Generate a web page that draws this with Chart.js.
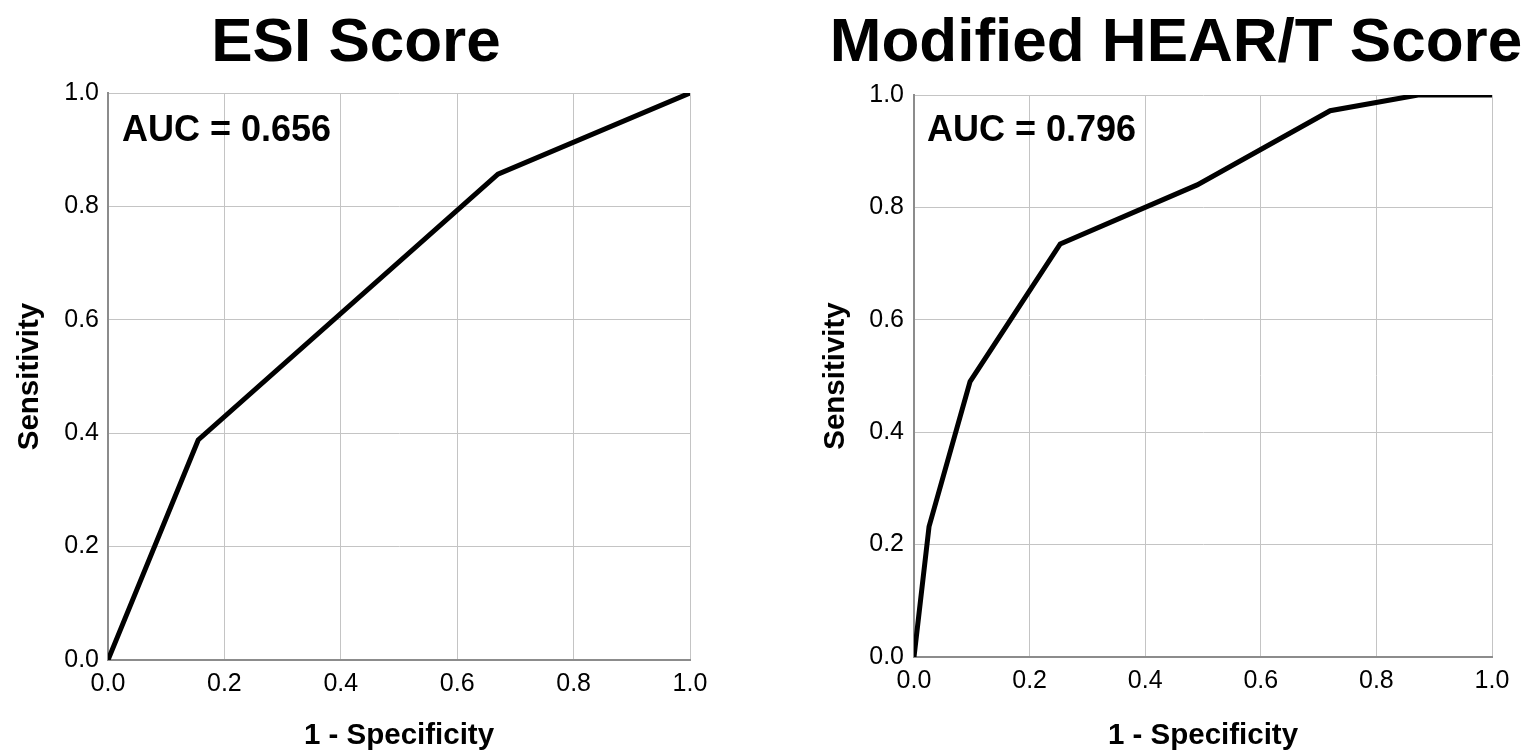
<!DOCTYPE html>
<html>
<head>
<meta charset="utf-8">
<title>ROC curves</title>
<script src="https://cdn.jsdelivr.net/npm/chart.js@4.4.1/dist/chart.umd.min.js"></script>
<style>
  body { margin: 0; background: #fff; font-family: "Liberation Sans", Arial, sans-serif; }
  .panel { position: absolute; top: 0; width: 765px; height: 754px; }
  .title {
    position: absolute; top: 9px; margin: 0; z-index: 2;
    font-size: 62px; line-height: 62px; font-weight: bold; color: #000;
    white-space: nowrap; transform: translateX(-50%);
  }
</style>
</head>
<body>
<div class="panel" style="left:0"><canvas id="esiChart"></canvas></div>
<div class="panel" style="left:765px"><canvas id="hearChart"></canvas></div>
<h2 class="title" style="left:356px">ESI Score</h2>
<h2 class="title" style="left:1176px">Modified HEAR/T Score</h2>

<script>
// ROC points (1 - specificity, sensitivity)
const esiFpr = [0, 0.155, 0.67, 1];
const esiTpr = [0, 0.388, 0.857, 1];
const esiAuc = "AUC = 0.656";

const hearFpr = [0, 0.026, 0.097, 0.253, 0.49, 0.72, 0.872, 1];
const hearTpr = [0, 0.232, 0.49, 0.735, 0.84, 0.972, 1, 1];
const hearAuc = "AUC = 0.796";

const tickValues = [0, 0.2, 0.4, 0.6, 0.8, 1.0];

const FONT = "'Liberation Sans', Arial, sans-serif";

// writes the AUC text in the top-left corner of the plot
const aucLabel = {
  id: "aucLabel",
  afterDatasetsDraw(chart, args, opts) {
    const { ctx, chartArea } = chart;
    ctx.save();
    ctx.font = "bold 36px " + FONT;
    ctx.fillStyle = "#000";
    ctx.textBaseline = "middle";
    ctx.fillText(opts.text, chartArea.left + opts.dx, chartArea.top + opts.dy);
    ctx.restore();
  },
};

const makeRoc = (id, fpr, tpr, auc, box) => {
  const ctx = document.getElementById(id).getContext("2d");
  const points = fpr.map((x, i) => ({ x: x, y: tpr[i] }));

  const axisFont = { family: FONT, size: 25 };
  const titleFont = { family: FONT, size: 29.5, weight: "bold", lineHeight: 1.2 };
  const grid = { color: "#c4c4c4", lineWidth: 1, drawTicks: false };
  const border = { display: true, color: "#8c8c8c", width: 2 };

  return new Chart(ctx, {
    type: "scatter",
    data: {
      datasets: [
        {
          data: points,
          showLine: true,
          borderColor: "#000",
          borderWidth: 5,
          pointRadius: 0,
          tension: 0,
          fill: false,
        },
      ],
    },
    options: {
      responsive: true,
      maintainAspectRatio: false,
      animation: false,
      layout: {
        padding: { top: box.top, left: box.left, right: box.right, bottom: 0 },
      },
      plugins: {
        legend: { display: false },
        tooltip: { enabled: false },
        aucLabel: { text: auc, dx: box.aucDx, dy: box.aucDy },
      },
      scales: {
        x: {
          type: "linear",
          min: 0,
          max: 1,
          afterBuildTicks: (s) => { s.ticks = tickValues.map((v) => ({ value: v })); },
          afterFit: (s) => { s.height = box.xHeight; },
          ticks: {
            font: axisFont,
            color: "#000",
            padding: 9,
            maxRotation: 0,
            autoSkip: false,
            callback: (v) => Number(v).toFixed(1),
          },
          grid: grid,
          border: border,
          title: {
            display: true,
            text: "1 - Specificity",
            font: titleFont,
            color: "#000",
            padding: { top: 0, bottom: 0 },
          },
        },
        y: {
          type: "linear",
          min: 0,
          max: 1,
          afterBuildTicks: (s) => { s.ticks = tickValues.map((v) => ({ value: v })); },
          afterFit: (s) => { s.width = 108; },
          ticks: {
            font: axisFont,
            color: "#000",
            padding: box.yPad,
            autoSkip: false,
            callback: (v) => Number(v).toFixed(1),
          },
          grid: grid,
          border: border,
          title: {
            display: true,
            text: "Sensitivity",
            font: titleFont,
            color: "#000",
            padding: { top: 12, bottom: 0 },
          },
        },
      },
    },
    plugins: [aucLabel],
  });
};

makeRoc("esiChart", esiFpr, esiTpr, esiAuc, {
  top: 93, left: 0, right: 75, xHeight: 94, yPad: 9, aucDx: 14, aucDy: 38,
});
makeRoc("hearChart", hearFpr, hearTpr, hearAuc, {
  top: 95, left: 41, right: 38, xHeight: 97, yPad: 10, aucDx: 13, aucDy: 36,
});
</script>
</body>
</html>
